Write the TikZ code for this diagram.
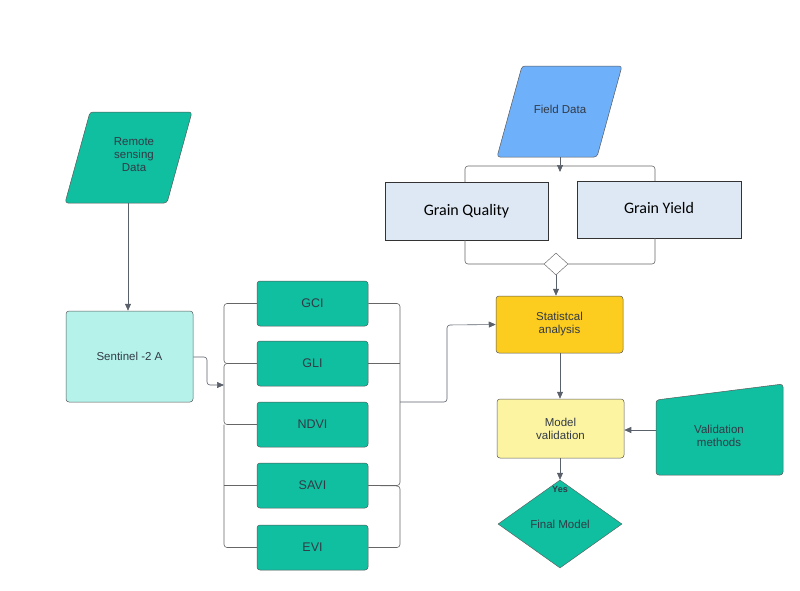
\documentclass[tikz,border=0pt]{standalone}
\usepackage{fontspec}
\setmainfont{Liberation Sans}
\newfontfamily\calib{Carlito}
\usetikzlibrary{arrows.meta,shapes.geometric}
\definecolor{teal1}{RGB}{16,190,160}
\definecolor{tealdark}{RGB}{40,100,90}
\definecolor{txt}{RGB}{50,58,70}
\definecolor{cyanl}{RGB}{180,242,234}
\definecolor{blue1}{RGB}{110,176,250}
\definecolor{gold}{RGB}{252,204,30}
\definecolor{lyel}{RGB}{252,244,160}
\definecolor{lblue}{RGB}{222,232,244}
\begin{document}
\begin{tikzpicture}[x=1pt,y=-1pt,
  conn/.style={draw=gray!80!black,line width=0.6pt,rounded corners=3pt},
  arr/.style={conn,-{Triangle[length=7pt,width=6pt]},draw=txt!80},
  box/.style={draw=gray!70!black,rounded corners=3pt,line width=0.5pt,text=txt,font=\fontsize{11.5}{13}\selectfont,align=center},
  idx/.style={box,fill=teal1,minimum width=111pt,minimum height=45pt,font=\fontsize{12.5}{14}\selectfont},
  grain/.style={draw=black!80,fill=lblue,line width=0.6pt,font=\calib\fontsize{16}{18}\selectfont,text=black}]
\useasboundingbox (0,0) rectangle (800,590);
% shapes
\draw[box,fill=teal1] (65,203) -- (90,112) -- (192,112) -- (167,203) -- cycle;
\node[text=txt,align=center,font=\fontsize{11.5}{13}\selectfont] (rs) at (134,155) {Remote\\sensing\\Data};
\coordinate (rsb) at (128,203);
\node[box,fill=cyanl,minimum width=127pt,minimum height=91pt] (sen) at (129.5,356.5) {Sentinel -2 A};
\draw[arr] (rsb) -- (sen.north -| rsb);
\node[idx] (gci) at (312.5,303.5) {GCI};
\node[idx] (gli) at (312.5,363.5) {GLI};
\node[idx] (ndvi) at (312.5,424.5) {NDVI};
\node[idx] (savi) at (312.5,485.5) {SAVI};
\node[idx] (evi) at (312.5,547.5) {EVI};
\coordinate (inA) at (224,385);
\draw[arr] (sen.east |- 0,357) -- (207,357) -- (207,385) -- (inA);
% left brackets
\draw[conn] (gci.west) -- (224,303.5) -- (224,363.5) -- (gli.west);
\draw[conn] (gli.west) -- (224,363.5) -- (224,424.5) -- (ndvi.west);
\draw[conn] (224,424.5) -- (224,547.5) -- (evi.west);
\draw[conn] (savi.west) -- (224,485.5);
% right brackets
\draw[conn] (gci.east) -- (400,303.5) -- (400,485.5) -- (savi.east);
\draw[conn] (gli.east) -- (400,363.5);
\draw[conn] (savi.east) -- (400,486) -- (400,547.5) -- (evi.east);
% field data
\draw[box,fill=blue1] (497,157) -- (522,66) -- (622,66) -- (597,157) -- cycle;
\node[text=txt,font=\fontsize{11.5}{13}\selectfont] (fd) at (560,109) {Field Data};
\coordinate (fdb) at (560,157);
\node[grain,minimum width=163pt,minimum height=58pt] (gq) at (466.5,211) {Grain Quality};
\node[grain,minimum width=164pt,minimum height=57pt] (gy) at (659,209.5) {\raisebox{3pt}{Grain Yield}};
\draw[conn] (465,182) -- (465,166) -- (655,166) -- (655,181);
\draw[arr] (fdb) -- (560,172);
\node[draw=gray!70!black,fill=white,diamond,minimum width=24pt,minimum height=22pt,inner sep=0pt] (dm) at (556,264) {};
\draw[conn] (465,240) -- (465,264) -- (dm.west);
\draw[conn] (dm.east) -- (655,264) -- (655,238);
\node[box,fill=gold,minimum width=127pt,minimum height=57pt] (st) at (559.5,324.5) {Statistcal\\analysis};
\draw[arr] (dm.south) -- (st.north -| dm);
\draw[arr] (400,402) -- (447,402) -- (447,325) -- (st.west);
\node[box,fill=lyel,minimum width=127pt,minimum height=59pt] (mv) at (560.5,428.5) {Model\\validation};
\draw[arr] (st.south -| 560,0) -- (mv.north -| 560,0);
\draw[box,fill=teal1] (656,400) -- (783,384) -- (783,475) -- (656,475) -- cycle;
\node[text=txt,align=center,font=\fontsize{11.5}{13}\selectfont] (vm) at (719,436) {Validation\\methods};
\coordinate (vmw) at (656,430);
\draw[arr] (vmw) -- (mv.east |- vmw);
\node[draw=gray!70!black,fill=teal1,diamond,aspect=1.4,minimum width=124pt,minimum height=88pt,inner sep=0pt,text=txt,font=\fontsize{11.5}{13}\selectfont] (fm) at (560,524) {\raisebox{-2pt}{Final Model}};
\draw[arr] (mv.south -| 560,0) -- (fm.north);
\node[font=\bfseries\fontsize{9}{10}\selectfont,text=txt] (yes) at (560,489) {Yes};
\end{tikzpicture}
\end{document}
